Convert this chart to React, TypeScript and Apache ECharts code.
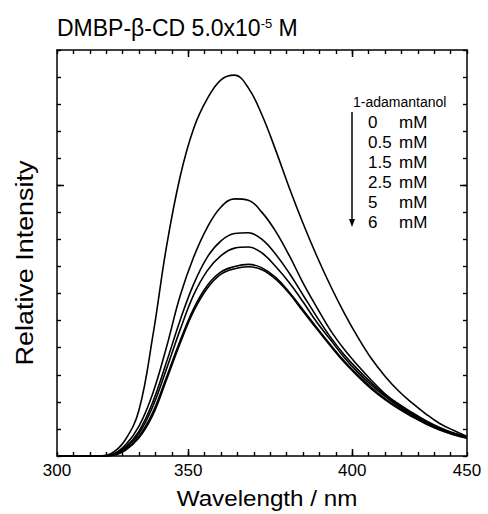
import React, { useEffect, useRef } from "react";
import * as echarts from "echarts";

// Wavelength grid (nm) and relative intensity
const wavelengths = [300, 305, 310, 315, 320, 325, 330, 335, 340, 345, 350, 355, 360, 365, 370, 375, 380, 385, 390, 395, 400, 405, 410, 415, 420, 425, 430, 435, 440, 445, 450];

const c0mM = [0, 0, 0, 0, 0.1, 0.6, 1.7, 4.4, 7.7, 10.3, 12.1, 13.2, 13.9, 14.07, 13.6, 12.6, 11.3, 9.9, 8.6, 7.4, 6.3, 5.3, 4.4, 3.6, 2.95, 2.4, 1.95, 1.55, 1.2, 0.95, 0.72];
const c05mM = [0, 0, 0, 0, 0.05, 0.4, 1.1, 2.3, 4.0, 5.9, 7.35, 8.45, 9.2, 9.5, 9.45, 9.0, 8.3, 7.4, 6.4, 5.5, 4.65, 3.95, 3.35, 2.8, 2.3, 1.92, 1.6, 1.3, 1.05, 0.85, 0.7];
const c15mM = [0, 0, 0, 0, 0.04, 0.32, 0.92, 1.98, 3.45, 5.0, 6.35, 7.35, 7.95, 8.22, 8.25, 8.0, 7.45, 6.75, 5.95, 5.15, 4.4, 3.75, 3.2, 2.7, 2.25, 1.87, 1.55, 1.26, 1.02, 0.85, 0.7];
const c25mM = [0, 0, 0, 0, 0.03, 0.29, 0.83, 1.82, 3.2, 4.65, 5.95, 6.85, 7.4, 7.68, 7.72, 7.5, 7.0, 6.4, 5.7, 4.95, 4.3, 3.65, 3.1, 2.62, 2.2, 1.83, 1.52, 1.24, 1.0, 0.83, 0.68];
const c5mM = [0, 0, 0, 0, 0.02, 0.23, 0.72, 1.6, 2.9, 4.25, 5.45, 6.3, 6.8, 7.0, 7.08, 6.95, 6.6, 6.05, 5.4, 4.75, 4.12, 3.52, 3.0, 2.53, 2.12, 1.77, 1.47, 1.2, 0.98, 0.8, 0.67];
const c6mM = [0, 0, 0, 0, 0.02, 0.21, 0.67, 1.5, 2.8, 4.15, 5.35, 6.2, 6.72, 6.92, 6.99, 6.88, 6.53, 6.0, 5.35, 4.7, 4.07, 3.47, 2.95, 2.48, 2.08, 1.74, 1.45, 1.18, 0.96, 0.79, 0.66];

const seriesValues = [c0mM, c05mM, c15mM, c25mM, c5mM, c6mM];
const concLabels = ["0", "0.5", "1.5", "2.5", "5", "6"];

// Tick labels of the wavelength axis, at the positions where the reference prints them
const xLabelValues = [300, 348, 408, 450];
const xLabelTexts = ["300", "350", "400", "450"];
const xMajorTicks = [348, 408];
const yMajorTicks = [10];

const FONT = "'Liberation Sans', Arial, Helvetica, sans-serif";

export default function App() {
  const ref = useRef<HTMLDivElement>(null);

  useEffect(() => {
    if (!ref.current) return;
    const chart = echarts.init(ref.current, null, { renderer: "svg" });

    const axisLine = { show: true, onZero: false, lineStyle: { color: "#000", width: 1.5 } };
    const minorTick = () => ({ show: true, inside: true, length: 4, lineStyle: { color: "#000", width: 1.4 } });

    const series = seriesValues.map((vals, i) => ({
      name: concLabels[i] + " mM",
      type: "line" as const,
      data: wavelengths.map((w, k) => [w, vals[k]]),
      smooth: 0.4,
      showSymbol: false,
      symbol: "none",
      lineStyle: { color: "#000", width: 1.6 },
      z: 3,
    }));

    chart.setOption({
      animation: false,
      backgroundColor: "#fff",
      grid: { left: 57, right: 21, top: 50, bottom: 58, containLabel: false },
      xAxis: [
        {
          type: "value", min: 300, max: 450, interval: 6, position: "bottom",
          axisLine, axisTick: minorTick(), splitLine: { show: false },
          axisLabel: {
            show: true, showMinLabel: true, showMaxLabel: true, hideOverlap: false,
            formatter: (v: number) => {
              const idx = xLabelValues.indexOf(Math.round(v));
              return idx >= 0 ? xLabelTexts[idx] : "";
            },
            fontSize: 17, fontFamily: FONT, color: "#000", margin: 6,
          },
        },
        {
          type: "value", min: 300, max: 450, interval: 6, position: "top",
          axisLine, axisTick: minorTick(), splitLine: { show: false },
          axisLabel: { show: true, formatter: () => "" },
        },
      ],
      yAxis: [
        {
          type: "value", min: 0, max: 15, interval: 1, position: "left",
          axisLine, axisTick: minorTick(), splitLine: { show: false },
          axisLabel: { show: true, formatter: () => "" },
        },
        {
          type: "value", min: 0, max: 15, interval: 1, position: "right",
          axisLine, axisTick: minorTick(), splitLine: { show: false },
          axisLabel: { show: true, formatter: () => "" },
        },
      ],
      series,
    });

    // Major ticks, placed through the axes' own scales
    const px = (v: number) => Number(chart.convertToPixel({ xAxisIndex: 0 }, v));
    const py = (v: number) => Number(chart.convertToPixel({ yAxisIndex: 0 }, v));
    const yBottom = py(0);
    const yTop = py(15);
    const xLeft = px(300);
    const xRight = px(450);
    const tickStyle = { stroke: "#000", lineWidth: 1.5 };
    const majorTicks: any[] = [];
    xMajorTicks.forEach((v) => {
      const x = Math.round(px(v)) + 0.5;
      majorTicks.push({ type: "line", z: 10, shape: { x1: x, y1: yBottom, x2: x, y2: yBottom - 7 }, style: tickStyle });
      majorTicks.push({ type: "line", z: 10, shape: { x1: x, y1: yTop, x2: x, y2: yTop + 7 }, style: tickStyle });
    });
    yMajorTicks.forEach((v) => {
      const y = Math.round(py(v)) + 0.5;
      majorTicks.push({ type: "line", z: 10, shape: { x1: xLeft, y1: y, x2: xLeft + 7, y2: y }, style: tickStyle });
      majorTicks.push({ type: "line", z: 10, shape: { x1: xRight, y1: y, x2: xRight - 7, y2: y }, style: tickStyle });
    });

    const legendRows: any[] = [];
    concLabels.forEach((c, i) => {
      const y = 122.7 + i * 20;
      legendRows.push({ type: "text", x: 368, y, style: { text: c, fontSize: 17, fontFamily: FONT, fill: "#000", align: "left", verticalAlign: "middle" } });
      legendRows.push({ type: "text", x: 399, y, style: { text: "mM", fontSize: 17, fontFamily: FONT, fill: "#000", align: "left", verticalAlign: "middle" } });
    });

    chart.setOption({
      graphic: [
        ...majorTicks,
        {
          type: "text", x: 57, y: 28,
          style: {
            text: "{a|DMBP-β-CD 5.0x10}{s|-5}{a| M}", fontFamily: FONT, fill: "#000", verticalAlign: "middle", align: "left",
            rich: {
              a: { fontSize: 23, fontFamily: FONT, fill: "#000" },
              s: { fontSize: 13, fontFamily: FONT, fill: "#000", verticalAlign: "top" },
            },
          },
        },
        { type: "text", x: 25, y: 263, rotation: Math.PI / 2, scaleX: 1.17, style: { text: "Relative Intensity", fontSize: 23, fontFamily: FONT, fill: "#000", align: "center", verticalAlign: "middle" } },
        { type: "text", x: 267, y: 498, scaleX: 1.1, style: { text: "Wavelength / nm", fontSize: 22, fontFamily: FONT, fill: "#000", align: "center", verticalAlign: "middle" } },
        { type: "text", x: 353, y: 101.7, style: { text: "1-adamantanol", fontSize: 14, fontFamily: FONT, fill: "#000", align: "left", verticalAlign: "middle" } },
        ...legendRows,
        { type: "line", shape: { x1: 352, y1: 112, x2: 352, y2: 221 }, style: { stroke: "#000", lineWidth: 1.5 } },
        { type: "polygon", shape: { points: [[349, 219], [355, 219], [352, 227]] }, style: { fill: "#000" } },
      ],
    });

    return () => { chart.dispose(); };
  }, []);

  return <div ref={ref} style={{ position: "fixed", left: 0, top: 0, width: 488, height: 514, background: "#fff" }} />;
}
